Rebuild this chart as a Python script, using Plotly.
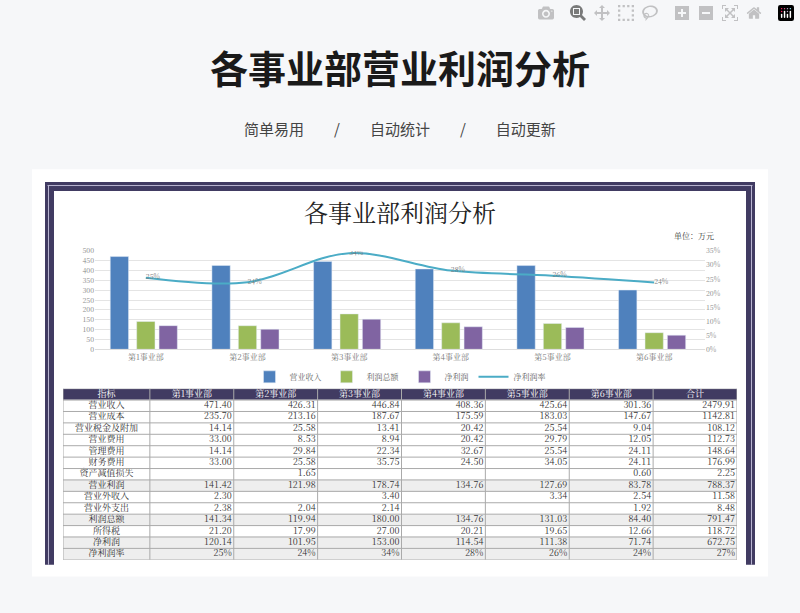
import plotly.graph_objects as go

W, H = 800, 613
depts = ["第1事业部", "第2事业部", "第3事业部", "第4事业部", "第5事业部", "第6事业部"]
revenue = [471.40, 426.31, 446.84, 408.36, 425.64, 301.36]
total_profit = [141.34, 119.94, 180.00, 134.76, 131.03, 84.40]
net_profit = [120.14, 101.95, 153.00, 114.54, 111.38, 71.74]
net_rate = [0.255, 0.239, 0.342, 0.280, 0.262, 0.238]
rate_labels = ["25%", "24%", "34%", "28%", "26%", "24%"]

row_names = ["营业收入", "营业成本", "营业税金及附加", "营业费用", "管理费用", "财务费用", "资产减值损失",
             "营业利润", "营业外收入", "营业外支出", "利润总额", "所得税", "净利润", "净利润率"]
col_headers = ["指标"] + depts + ["合计"]
d1 = ["471.40", "235.70", "14.14", "33.00", "14.14", "33.00", "", "141.42", "2.30", "2.38", "141.34", "21.20", "120.14", "25%"]
d2 = ["426.31", "213.16", "25.58", "8.53", "29.84", "25.58", "1.65", "121.98", "", "2.04", "119.94", "17.99", "101.95", "24%"]
d3 = ["446.84", "187.67", "13.41", "8.94", "22.34", "35.75", "", "178.74", "3.40", "2.14", "180.00", "27.00", "153.00", "34%"]
d4 = ["408.36", "175.59", "20.42", "20.42", "32.67", "24.50", "", "134.76", "", "", "134.76", "20.21", "114.54", "28%"]
d5 = ["425.64", "183.03", "25.54", "29.79", "25.54", "34.05", "", "127.69", "3.34", "", "131.03", "19.65", "111.38", "26%"]
d6 = ["301.36", "147.67", "9.04", "12.05", "24.11", "24.11", "0.60", "83.78", "2.54", "1.92", "84.40", "12.66", "71.74", "24%"]
tot = ["2479.91", "1142.81", "108.12", "112.73", "148.64", "176.99", "2.25", "788.37", "11.58", "8.48", "791.47", "118.72", "672.75", "27%"]
shaded_rows = ["营业利润", "利润总额", "净利润", "净利润率"]

def px(x): return x / W
def py(y): return 1 - y / H

SERIF = "Noto Serif CJK SC, Noto Sans CJK SC, serif"
fig = go.Figure()
fig.add_bar(x=depts, y=revenue, name="营业收入", marker_color="#4f81bd", width=0.18, offset=-0.35)
fig.add_bar(x=depts, y=total_profit, name="利润总额", marker_color="#9bbb59", width=0.18, offset=-0.09)
fig.add_bar(x=depts, y=net_profit, name="净利润", marker_color="#8064a2", width=0.18, offset=0.13)
fig.add_scatter(x=depts, y=net_rate, name="净利润率", yaxis="y2", mode="lines+text",
                line=dict(color="#4bacc6", width=2, shape="spline"), text=rate_labels,
                textposition="middle right", textfont=dict(size=7, color="#777"))

# ---- table built on its own axes (x3 in px-like units, y3 in row units)
cols = [row_names, d1, d2, d3, d4, d5, d6, tot]
col_w = [87] + [84] * 7
edges = [0]
for w in col_w:
    edges.append(edges[-1] + w)
nrows = len(row_names) + 1
row_edges = list(range(nrows + 1))
z = [[0] * len(col_w)] + [[2 if r in shaded_rows else 1] * len(col_w) for r in row_names]
fig.add_trace(go.Heatmap(x=edges, y=row_edges, z=z, xaxis="x3", yaxis="y3", showscale=False,
                         zmin=0, zmax=2, colorscale=[[0, "#413b62"], [0.5, "#ffffff"], [1, "#eeeeee"]],
                         hoverinfo="skip"))
for ci, vals in enumerate(cols):
    if ci == 0:
        xs = [(edges[0] + edges[1]) / 2] * len(vals)
        pos = "middle center"
    else:
        xs = [edges[ci + 1] - 2] * len(vals)
        pos = "middle left"
    fig.add_scatter(x=xs, y=[i + 1.5 for i in range(len(vals))], text=vals, mode="text",
                    textposition=pos, textfont=dict(size=9, color="#333", family=SERIF),
                    xaxis="x3", yaxis="y3", showlegend=False, hoverinfo="skip")
fig.add_scatter(x=[(edges[i] + edges[i + 1]) / 2 for i in range(len(col_w))], y=[0.5] * len(col_w),
                text=col_headers, mode="text", textposition="middle center",
                textfont=dict(size=9, color="white", family=SERIF),
                xaxis="x3", yaxis="y3", showlegend=False, hoverinfo="skip")

shapes = [
    dict(type="rect", xref="paper", yref="paper", x0=px(32), x1=px(768), y0=py(580), y1=py(166),
         fillcolor="white", line=dict(width=0), layer="below"),
    dict(type="rect", xref="paper", yref="paper", x0=px(45), x1=px(755), y0=py(188), y1=py(179),
         fillcolor="#413b62", line=dict(width=0), layer="below"),
    dict(type="rect", xref="paper", yref="paper", x0=px(45), x1=px(54), y0=py(568), y1=py(179),
         fillcolor="#413b62", line=dict(width=0), layer="below"),
    dict(type="rect", xref="paper", yref="paper", x0=px(746), x1=px(755), y0=py(568), y1=py(179),
         fillcolor="#413b62", line=dict(width=0), layer="below"),
    dict(type="rect", xref="paper", yref="paper", x0=px(54), x1=px(746), y0=py(568), y1=py(188),
         fillcolor="white", line=dict(width=0), layer="below"),
    dict(type="line", xref="paper", yref="paper", x0=px(47.5), x1=px(752.5), y0=py(182.5), y1=py(182.5),
         line=dict(color="#b8b4d0", width=1), layer="below"),
    dict(type="line", xref="paper", yref="paper", x0=px(48.5), x1=px(48.5), y0=py(568), y1=py(182.5),
         line=dict(color="#b8b4d0", width=1), layer="below"),
    dict(type="line", xref="paper", yref="paper", x0=px(751.5), x1=px(751.5), y0=py(568), y1=py(182.5),
         line=dict(color="#b8b4d0", width=1), layer="below"),
]
for e in edges:
    shapes.append(dict(type="line", xref="x3", yref="y3", x0=e, x1=e, y0=0, y1=nrows,
                       line=dict(color="#aaaaaa", width=1)))
for r in row_edges:
    shapes.append(dict(type="line", xref="x3", yref="y3", x0=edges[0], x1=edges[-1], y0=r, y1=r,
                       line=dict(color="#aaaaaa", width=1)))

ann = [
    dict(text="<b>各事业部营业利润分析</b>", x=0.5, y=py(62), font=dict(size=38, color="#1a1a1a", family="Noto Sans CJK SC")),
    dict(text="简单易用　　/　　自动统计　　/　　自动更新", x=0.5, y=py(125), font=dict(size=15, color="#444", family="Noto Sans CJK SC")),
    dict(text="各事业部利润分析", x=0.5, y=py(209), font=dict(size=24, color="#222", family=SERIF)),
    dict(text="单位：万元", x=px(716), y=py(233), xanchor="right", font=dict(size=8, color="#333", family=SERIF)),
]
for a in ann:
    a.update(xref="paper", yref="paper", showarrow=False, yanchor="middle")
    a.setdefault("xanchor", "center")

fig.update_layout(
    width=W, height=H, margin=dict(l=0, r=0, t=0, b=0), autosize=False,
    paper_bgcolor="#f6f7f9", plot_bgcolor="white",
    shapes=shapes, annotations=ann, barmode="overlay",
    font=dict(family=SERIF, color="#888", size=7),
    xaxis=dict(domain=[px(95), px(705)], anchor="y", tickfont=dict(size=8, color="#777"), showline=True, linecolor="#ddd"),
    yaxis=dict(domain=[py(349), py(249)], range=[0, 500], dtick=50, gridcolor="#e4e4e4", zeroline=False, tickfont=dict(size=7, color="#888")),
    yaxis2=dict(overlaying="y", side="right", range=[0, 0.35], dtick=0.05, tickformat=".0%", showgrid=False, tickfont=dict(size=7, color="#888")),
    xaxis3=dict(domain=[px(63), px(737)], anchor="y3", range=[0, edges[-1]], visible=False, fixedrange=True),
    yaxis3=dict(domain=[py(563), py(389)], anchor="x3", range=[nrows, 0], visible=False, fixedrange=True),
    legend=dict(orientation="h", x=0.5, xanchor="center", y=py(377), yanchor="middle", itemwidth=30,
                font=dict(size=8, color="#666"), bgcolor="rgba(0,0,0,0)"),
)
fig.write_html("out.html", post_script="document.body.style.margin='0';")
